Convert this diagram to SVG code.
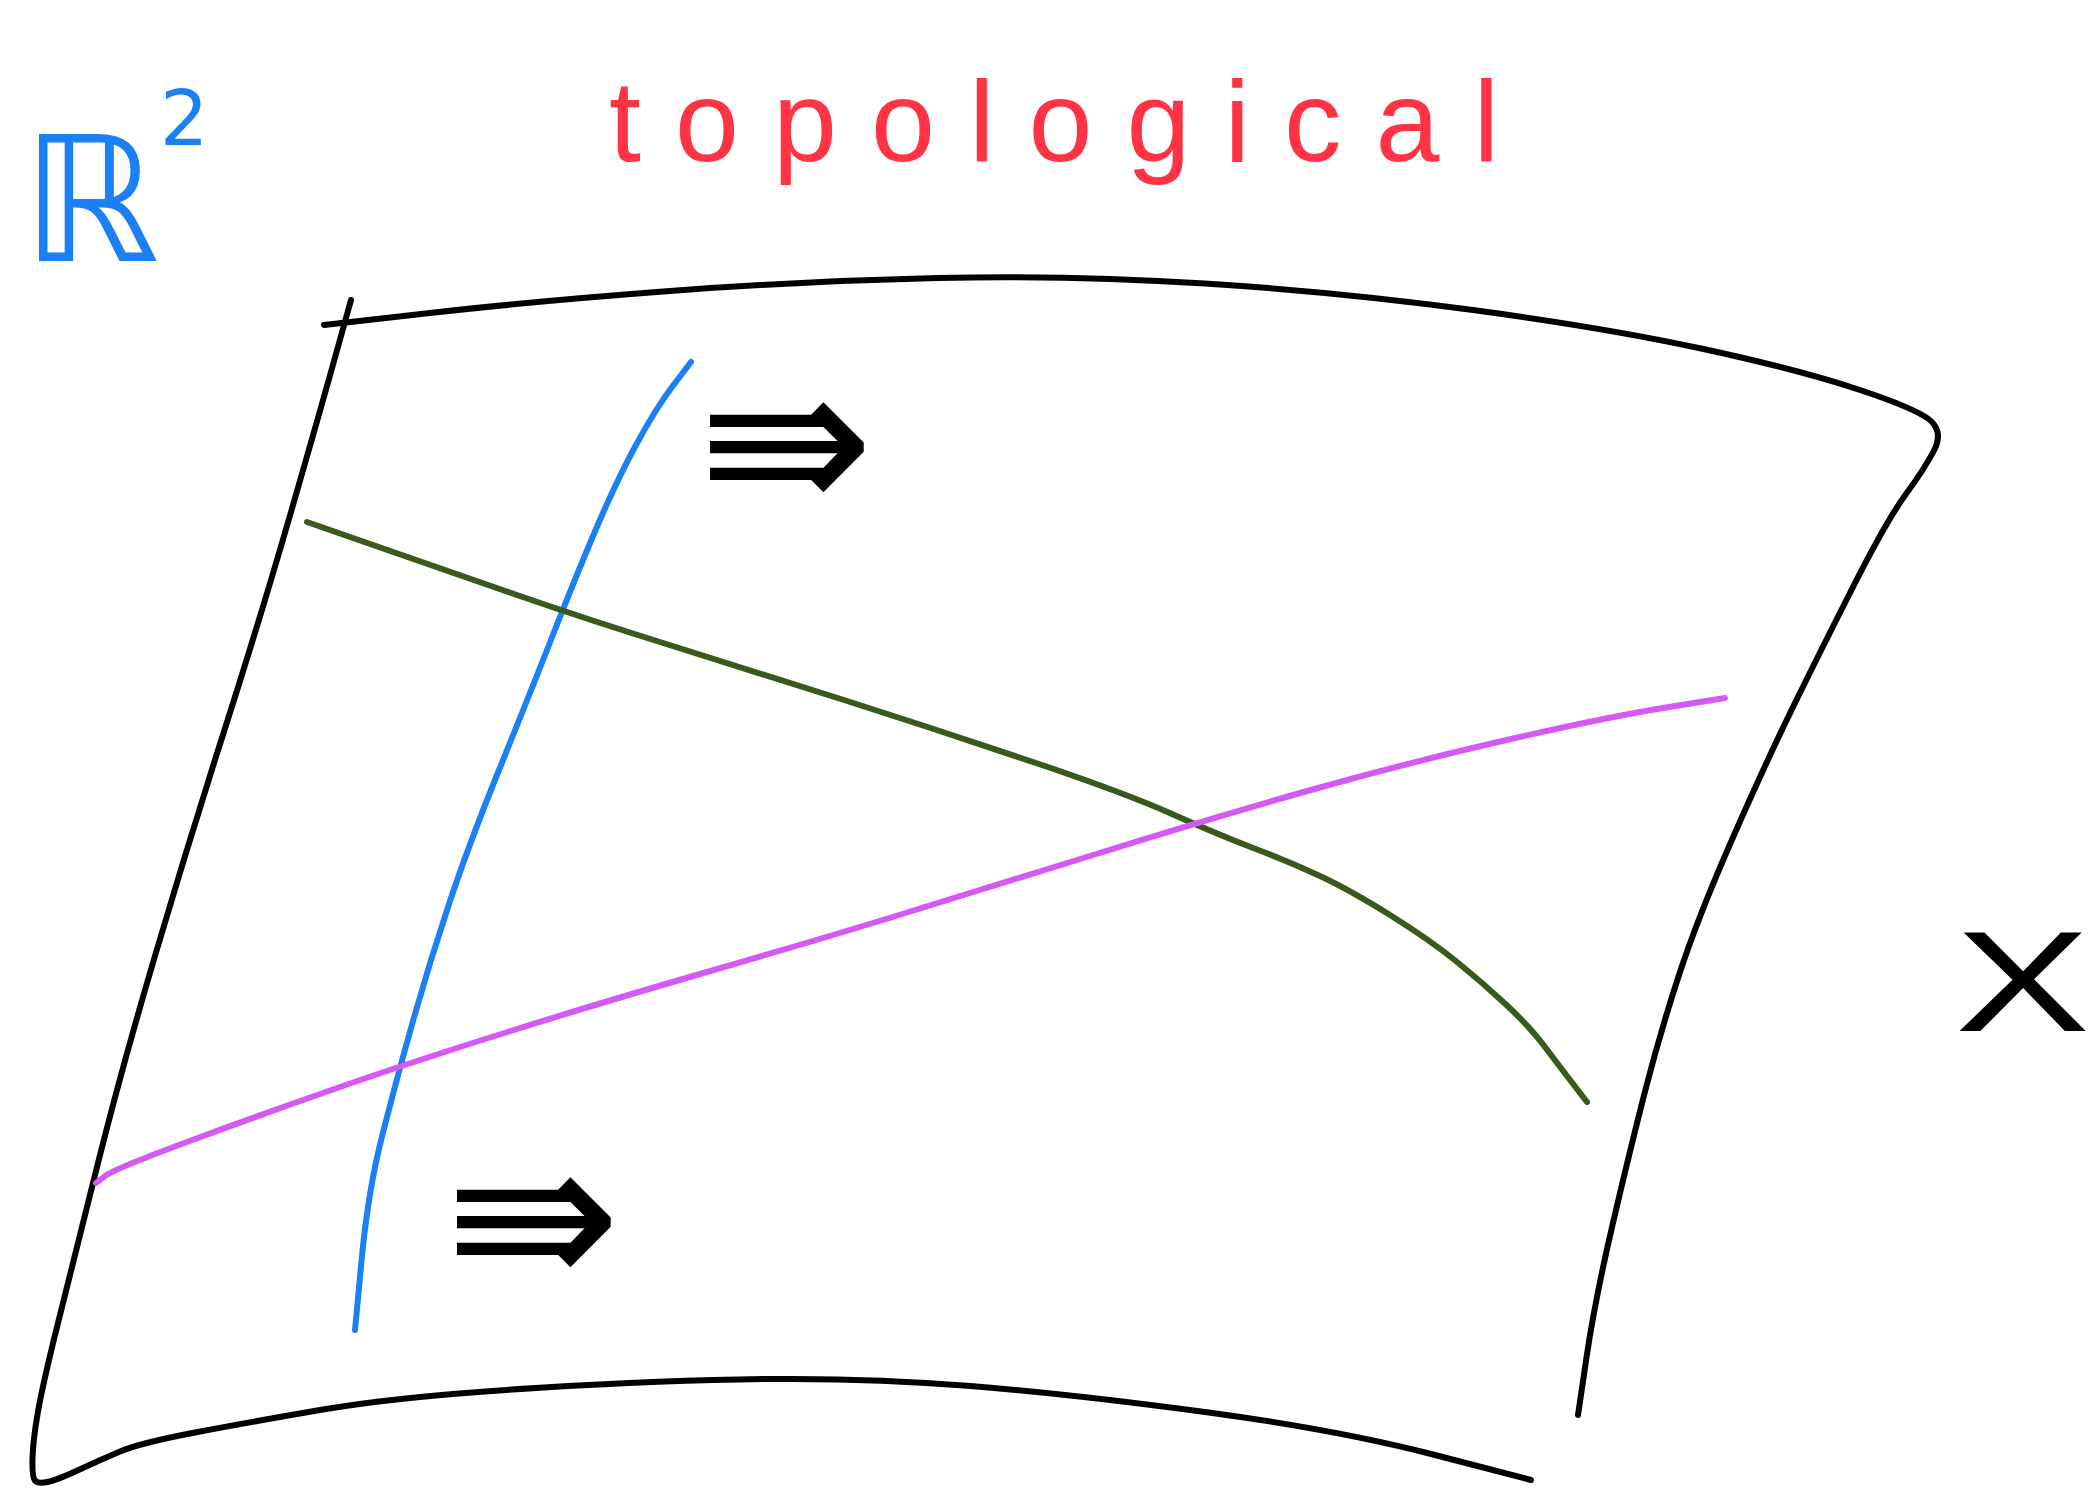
<svg xmlns="http://www.w3.org/2000/svg" width="2100" height="1491" viewBox="0 0 2100 1491">
<style>
.s{fill:none;stroke-width:6;stroke-linecap:round;stroke-linejoin:round}
.k{stroke:#000}
.b{stroke:#1a80f4}
.g{stroke:#3a5a1c}
.m{stroke:#d35af4}
.t{font-family:"DejaVu Sans","Liberation Sans",sans-serif}
</style>
<rect width="2100" height="1491" fill="#fff"/>
<g id="outline">
<path class="s k" d="M351,300 L336,354 Q321,408 291,512 Q261,616 224.5,730 Q188,844 154.5,957.5 Q121,1071 97.5,1165 Q74,1259 58.5,1321 Q43,1383 38,1411.5 Q33,1440 32.5,1458.5 Q32,1477 35,1480.5 Q38,1484 47.5,1482 Q57,1480 78.5,1470 Q100,1460 120,1451.5 Q140,1443 195,1432.5 Q250,1422 326,1409 Q402,1396 536,1388 Q670,1380 770,1379 Q870,1378 970.5,1386 Q1071,1394 1205,1412 Q1339,1430 1435,1455 L1531,1480"/>
<path class="s k" d="M324,325 L430,313 Q536,301 670,291 Q804,281 937.5,278 Q1071,275 1205,283.5 Q1339,292 1473,310 Q1607,328 1703.5,349 Q1800,370 1860,390 Q1920,410 1931.5,421.5 Q1943,433 1934,450.5 Q1925,468 1906,494 Q1887,520 1854,585 Q1821,650 1794,705 Q1767,760 1732.5,838.5 Q1698,917 1679,975 Q1660,1033 1645,1091.5 Q1630,1150 1612.5,1225 Q1595,1300 1586.5,1357.5 L1578,1415"/>
</g>
<g id="blue-line">
<path class="s b" d="M691,362 L673.5,385 Q656,408 636,445 Q616,482 596,529 Q576,576 552.5,636 Q529,696 499,770 Q469,844 449,904 Q429,964 412,1024.5 Q395,1085 381.5,1138.5 Q368,1192 361.5,1261 L355,1330"/>
</g>
<g id="green-line">
<path class="s g" d="M307,522 L374.5,545.5 Q442,569 515.5,594.5 Q589,620 669.5,645 Q750,670 844,700 Q938,730 1031.5,761.5 Q1125,793 1172,814 Q1219,835 1254.5,848.5 Q1290,862 1320,876 Q1350,890 1390,915 Q1430,940 1456.5,961.5 Q1483,983 1506.5,1005 Q1530,1027 1543.5,1045 Q1557,1063 1572,1082.5 L1587,1102"/>
</g>
<g id="magenta-line">
<path class="s m" d="M96,1183 L105,1176 Q114,1169 191,1140.5 Q268,1112 341.5,1086.5 Q415,1061 509,1031.5 Q603,1002 703.5,973 Q804,944 891,917.5 Q978,891 1091.5,855.5 Q1205,820 1305.5,791.5 Q1406,763 1506.5,740 Q1607,717 1666,707.5 L1725,698"/>
</g>
<g id="label-R2">
<text class="t" x="22" y="261" font-size="174" fill="#1a80f4">ℝ</text>
<text class="t" x="160" y="145" font-size="76" fill="#1a80f4">2</text>
</g>
<g id="label-topological">
<text x="609" y="161" font-family="'Liberation Sans',sans-serif" font-size="115" fill="#ff3344" textLength="890" lengthAdjust="spacing">topological</text>
</g>
<g id="label-X">
<text x="1955" y="1031" font-family="'Liberation Sans',sans-serif" font-size="143" fill="#000" textLength="135" lengthAdjust="spacingAndGlyphs">X</text>
</g>
<g id="arrow-1">
<text class="t" x="698" y="513" font-size="210" fill="#000">⇛</text>
</g>
<g id="arrow-2">
<text class="t" x="445" y="1288" font-size="210" fill="#000">⇛</text>
</g>
</svg>
